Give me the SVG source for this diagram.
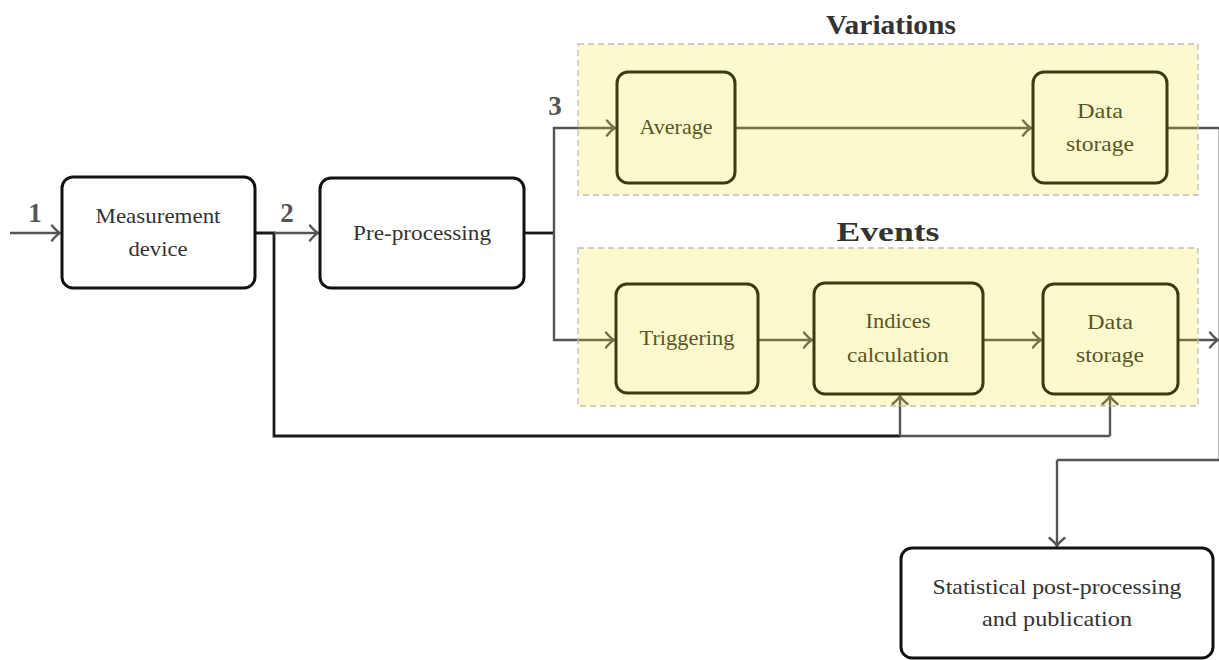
<svg xmlns="http://www.w3.org/2000/svg" width="1219" height="660" viewBox="0 0 1219 660">
<defs>
<marker id="arr" viewBox="-12 -8 14 16" refX="0" refY="0" markerWidth="14" markerHeight="16" markerUnits="userSpaceOnUse" orient="auto" overflow="visible">
<path d="M-8,-7.5 Q-3,-1.5 0,0 Q-3,1.5 -8,7.5" fill="none" stroke="#555" stroke-width="2.4" stroke-linecap="round"/>
</marker>
<style>
.box{fill:#fff;stroke:#111;stroke-width:3}
.t{font-family:"Liberation Serif","Times New Roman",serif;font-size:21px;fill:#333;text-anchor:middle}
.ttl{font-family:"Liberation Serif","Times New Roman",serif;font-size:28px;font-weight:bold;fill:#333;text-anchor:middle}
.num{font-family:"Liberation Serif","Times New Roman",serif;font-size:27px;font-weight:bold;fill:#555;text-anchor:middle}
.c{fill:none;stroke:#555;stroke-width:2.4}
.k{fill:none;stroke:#1a1a1a;stroke-width:2.8}
.a{marker-end:url(#arr)}
.zone{fill:#f0e100;fill-opacity:0.2}
.zb{fill:none;stroke:#bdbdbd;stroke-width:1.3;stroke-dasharray:6,4}
</style>
</defs>
<rect width="1219" height="660" fill="#fff"/>
<g id="connectors">
<path class="c a" d="M10,233 H60"/>
<path class="k" d="M255,233 H274 V436 H900"/>
<path class="c a" d="M274,233 H318"/>
<path class="c" d="M900,436 H1110"/>
<path class="c a" d="M900,436 V396"/>
<path class="c a" d="M1110,436 V396"/>
<path class="k" d="M524,233 H554"/>
<path class="c a" d="M554,233 V128 H615"/>
<path class="c a" d="M554,233 V340 H614"/>
<path class="c a" d="M735,128 H1031"/>
<path class="c" d="M1167,128 H1219.8 V460 H1057"/>
<path class="c a" d="M1057,460 V546"/>
<path class="c a" d="M758,340 H812"/>
<path class="c a" d="M983,340 H1041"/>
<path class="c a" d="M1178,340 H1218"/>
</g>
<g id="labels">
<text class="num" x="35" y="222">1</text>
<text class="num" x="287" y="222">2</text>
<text class="num" x="555" y="115">3</text>
</g>
<g id="measurement">
<rect class="box" x="62" y="177" width="193" height="111" rx="11"/>
<text class="t" x="158" y="223" textLength="125" lengthAdjust="spacingAndGlyphs">Measurement</text>
<text class="t" x="158" y="256" textLength="59" lengthAdjust="spacingAndGlyphs">device</text>
</g>
<g id="preprocessing">
<rect class="box" x="320" y="178" width="204" height="110" rx="11"/>
<text class="t" x="422" y="240" textLength="138" lengthAdjust="spacingAndGlyphs">Pre-processing</text>
</g>
<g id="average">
<rect class="box" x="617" y="72" width="118" height="111" rx="11"/>
<text class="t" x="676" y="134" textLength="73" lengthAdjust="spacingAndGlyphs">Average</text>
</g>
<g id="storage1">
<rect class="box" x="1033" y="72" width="134" height="111" rx="11"/>
<text class="t" x="1100" y="118" textLength="46" lengthAdjust="spacingAndGlyphs">Data</text>
<text class="t" x="1100" y="151" textLength="68" lengthAdjust="spacingAndGlyphs">storage</text>
</g>
<g id="triggering">
<rect class="box" x="616" y="284" width="142" height="109" rx="11"/>
<text class="t" x="687" y="345" textLength="95" lengthAdjust="spacingAndGlyphs">Triggering</text>
</g>
<g id="indices">
<rect class="box" x="814" y="283" width="169" height="111" rx="11"/>
<text class="t" x="898" y="328" textLength="65" lengthAdjust="spacingAndGlyphs">Indices</text>
<text class="t" x="898" y="362" textLength="102" lengthAdjust="spacingAndGlyphs">calculation</text>
</g>
<g id="storage2">
<rect class="box" x="1043" y="284" width="135" height="110" rx="11"/>
<text class="t" x="1110" y="329" textLength="46" lengthAdjust="spacingAndGlyphs">Data</text>
<text class="t" x="1110" y="362" textLength="68" lengthAdjust="spacingAndGlyphs">storage</text>
</g>
<g id="statistical">
<rect class="box" x="901" y="548" width="312" height="110" rx="11"/>
<text class="t" x="1057" y="594" textLength="249" lengthAdjust="spacingAndGlyphs">Statistical post-processing</text>
<text class="t" x="1057" y="626" textLength="150" lengthAdjust="spacingAndGlyphs">and publication</text>
</g>
<g id="variations">
<rect class="zone" x="578" y="44" width="620" height="151"/>
<rect class="zb" x="578" y="44" width="620" height="151"/>
<text class="ttl" x="891" y="34" textLength="130" lengthAdjust="spacingAndGlyphs">Variations</text>
</g>
<g id="events">
<rect class="zone" x="578" y="248" width="620" height="158"/>
<rect class="zb" x="578" y="248" width="620" height="158"/>
<text class="ttl" x="888" y="241" textLength="103" lengthAdjust="spacingAndGlyphs">Events</text>
</g>
</svg>
